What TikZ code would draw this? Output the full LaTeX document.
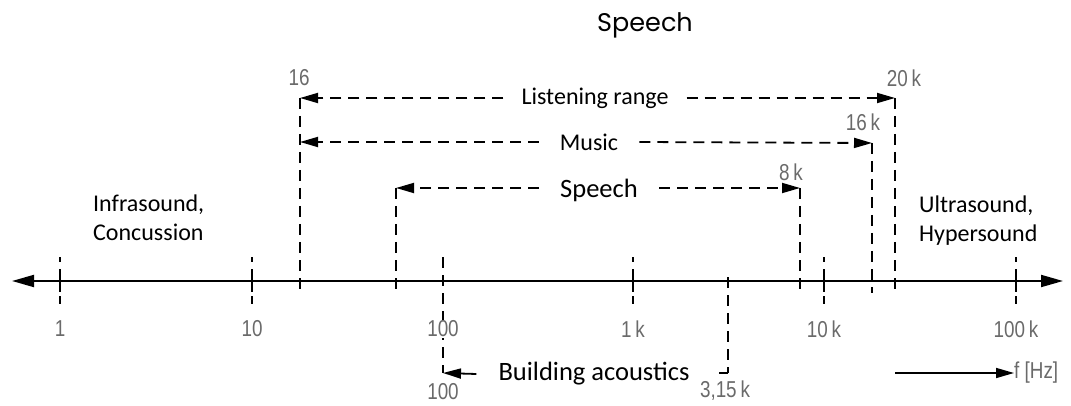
\documentclass[tikz,border=0pt]{standalone}
\usepackage{fontspec}
\setmainfont{Carlito}
\newfontfamily\tickfont[FakeStretch=0.82]{Liberation Sans}
\newfontfamily\titlefont{Poppins}
\usetikzlibrary{arrows.meta}
\definecolor{tickgray}{HTML}{6A6A6A}
\begin{document}
\begin{tikzpicture}[x=1pt,y=-1pt,
  axisline/.style={line width=1.8pt, {Triangle[length=22pt,width=12pt]}-{Triangle[length=22pt,width=12pt]}},
  rangeline/.style={line width=1.8pt, dash pattern=on 11pt off 7pt},
  tickline/.style={line width=1.6pt, dash pattern=on 5pt off 7pt on 23pt off 4pt on 9pt},
  tip/.style={-{Triangle[length=18pt,width=10pt]}},
  ticklabel/.style={font=\tickfont\fontsize{23}{23}\selectfont, text=tickgray, inner sep=1pt},
  caption/.style={font=\fontsize{24}{28}\selectfont, inner ysep=0pt},
  bigcaption/.style={font=\fontsize{26.5}{30}\selectfont, inner ysep=0pt},
  sidetext/.style={font=\fontsize{24}{29}\selectfont, align=left, anchor=west, inner sep=0pt}]
\useasboundingbox (0,0) rectangle (1071,406);

% title
\node[font=\titlefont\fontsize{25.5}{25.5}\selectfont] (title) at (645,25) {Speech};

% frequency axis
\coordinate (axL) at (12,281);
\coordinate (axR) at (1063,281);
\draw[axisline] (axL) -- (axR);

% decade ticks with labels
\foreach \name/\x/\lab in {d1/60/1, d10/252/10, d1k/633/{1\,k}, d10k/824/{10\,k}, d100k/1016/{100\,k}} {
  \coordinate (\name top) at (\x,257);
  \coordinate (\name bot) at (\x,304);
  \draw[tickline] (\name top) -- (\name bot);
  \node[ticklabel] (\name lab) at (\x,329) {\lab};
}

% corner points of the ranges
\coordinate (c16top)  at (300,98);   \coordinate (c16bot)  at (300,293);
\coordinate (c20ktop) at (895,98);   \coordinate (c20kbot) at (895,293);
\coordinate (c16ktop) at (872,143);  \coordinate (c16kbot) at (872,293);
\coordinate (sLtop)   at (396,188);  \coordinate (sLbot)   at (396,293);
\coordinate (c8ktop)  at (800,188);  \coordinate (c8kbot)  at (800,293);

% vertical range limits
\draw[rangeline] (c16top) -- (c16bot);
\draw[rangeline] (c20ktop) -- (c20kbot);
\draw[rangeline] (c16ktop) -- (c16kbot);
\draw[rangeline] (sLtop) -- (sLbot);
\draw[rangeline] (c8ktop) -- (c8kbot);

% limit values
\node[ticklabel] (l16)  at (299,78)  {16};
\node[ticklabel] (l20k) at (904,78)  {20\,k};
\node[ticklabel] (l16k) at (863,122) {16\,k};
\node[ticklabel] (l8k)  at (791,172) {8\,k};

% listening range
\node[caption, inner xsep=18pt] (lr) at (595,98) {Listening range};
\draw[rangeline, tip] (lr.west) -- (c16top);
\draw[rangeline, tip] (lr.east) -- (c20ktop);

% music
\node[caption, inner xsep=21pt] (mu) at (589,142) {Music};
\draw[rangeline, tip] (mu.west) -- (c16top |- mu);
\draw[rangeline, tip] (mu.east) -- (c16ktop);

% speech
\node[bigcaption, inner xsep=21pt] (sp) at (599,190) {Speech};
\draw[rangeline, tip] (sp.west |- sLtop) -- (sLtop);
\draw[rangeline, tip] (sp.east |- c8ktop) -- (c8ktop);

% side regions
\node[sidetext] (infra) at (93,218) {Infrasound,\\Concussion};
\node[sidetext] (ultra) at (919,221) {Ultrasound,\\Hypersound};

% building acoustics
\coordinate (b100top) at (443,257);
\coordinate (b100c)   at (443,373);
\coordinate (b315top) at (728,277);
\coordinate (b315c)   at (728,373);
\coordinate (b315end) at (719,373);
\draw[rangeline] (b100top) -- (b100c);
\node[ticklabel, fill=white] (d100lab) at (443,329) {100};
\draw[rangeline] (b315top) -- (b315c);
\draw[line width=1.8pt] (b315c) -- (b315end);
\node[bigcaption, inner xsep=22pt] (ba) at (594,374) {Building acoustics};
\draw[line width=1.8pt, tip] (ba.west) -- (b100c);
\node[ticklabel] (b100lab) at (443,392) {100};
\node[ticklabel] (b315lab) at (725,391) {3,15\,k};

% frequency direction
\coordinate (fst) at (895,373);
\node[ticklabel, anchor=west, inner sep=0pt] (fhz) at (1014,373) {f [Hz]};
\draw[line width=1.6pt, tip] (fst) -- (fhz.west);
\end{tikzpicture}
\end{document}
